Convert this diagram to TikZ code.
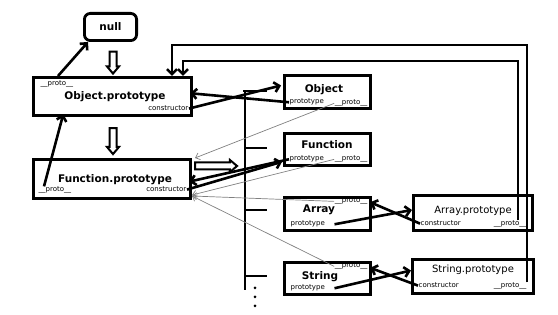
\documentclass[tikz,border=0pt]{standalone}
\usepackage{fontspec}
\setmainfont{DejaVu Sans}
\usepackage{tikz}
\usetikzlibrary{arrows.meta,shapes.arrows}

\begin{document}
\begin{tikzpicture}[x=1pt,y=-1pt,
  box/.style={draw, line width=2.8pt, inner sep=0pt},
  title/.style={font=\fontsize{10.5}{12}\selectfont\bfseries, inner sep=0pt, anchor=base},
  ptname/.style={font=\fontsize{10}{12}\selectfont, inner sep=0pt, anchor=base},
  prop/.style={font=\fontsize{7}{8}\selectfont, inner sep=0.5pt},
  link/.style={line width=2.6pt, -{Straight Barb[length=5pt,width=10pt]}},
  protolink/.style={gray, line width=0.7pt, -{Straight Barb[length=4pt,width=7pt]}},
  fatarrow/.style={single arrow, draw, line width=2pt, inner sep=2.5pt, single arrow head extend=2.5pt, single arrow tip angle=80},
  spine/.style={line width=2.8pt}]
\useasboundingbox (0,0) rectangle (558,315);

\node [box, rounded corners=6pt, minimum width=52.2pt, minimum height=27.2pt] (null) at (110.5,27) {};
\node [box, minimum width=158.2pt, minimum height=38.2pt] (objproto) at (112.5,96.5) {};
\node [box, minimum width=157.2pt, minimum height=39.2pt] (funproto) at (112,179) {};
\node [box, minimum width=86.2pt, minimum height=33.2pt] (obj) at (327.5,92) {};
\node [box, minimum width=86.2pt, minimum height=32.2pt] (fun) at (327.5,149.5) {};
\node [box, minimum width=86.2pt, minimum height=33.2pt] (arr) at (327.5,214) {};
\node [box, minimum width=86.2pt, minimum height=32.2pt] (str) at (327.5,278.5) {};
\node [box, minimum width=119.2pt, minimum height=35.2pt] (arrproto) at (473,213) {};
\node [box, minimum width=121.2pt, minimum height=34.2pt] (strproto) at (473,276.5) {};

\node [title] (nulltxt) at (110.5,31) {null};

\node [prop, anchor=base west] (oppr) at (40,86) {\_\_proto\_\_};
\node [title] (optxt) at (115,100) {Object.prototype};
\node [prop, anchor=base east] (opctor) at (189,111) {constructor};

\node [title] (fptxt) at (115,183) {Function.prototype};
\node [prop, anchor=base west] (fppr) at (38,192) {\_\_proto\_\_};
\node [prop, anchor=base east] (fpctor) at (187,192) {constructor};

\node [title] (objtxt) at (324,92.5) {Object};
\node [prop, anchor=base west] (objpt) at (289,104) {prototype};
\node [prop, anchor=base east] (objpr) at (368,105) {\_\_proto\_\_};

\node [title] (funtxt) at (327,149) {Function};
\node [prop, anchor=base west] (funpt) at (289,161) {prototype};
\node [prop, anchor=base east] (funpr) at (368,161) {\_\_proto\_\_};

\node [title] (arrtxt) at (319,213) {Array};
\node [prop, anchor=base east] (arrpr) at (368,203) {\_\_proto\_\_};
\node [prop, anchor=base west] (arrpt) at (290,226) {prototype};

\node [title] (strtxt) at (320,280) {String};
\node [prop, anchor=base east] (strpr) at (368,268) {\_\_proto\_\_};
\node [prop, anchor=base west] (strpt) at (290,290) {prototype};

\node [ptname] (aptxt) at (473,214) {Array.prototype};
\node [prop, anchor=base west] (apctor) at (420,226) {constructor};
\node [prop, anchor=base east] (appr) at (527,226) {\_\_proto\_\_};

\node [ptname] (sptxt) at (473,273) {String.prototype};
\node [prop, anchor=base west] (spctor) at (418,288) {constructor};
\node [prop, anchor=base east] (sppr) at (527,288) {\_\_proto\_\_};

\node [fatarrow, minimum height=22pt, rotate=-90] (nulldown) at (113,60.5) {};
\node [fatarrow, minimum height=26pt, rotate=-90] (objdown) at (113,139) {};
\node [fatarrow, minimum height=42pt] (funright) at (214,166) {};

\draw [spine] (243,91) -- (267,91);
\draw [spine] (245,91) -- (245,290);
\draw [spine] (245,148) -- (267,148);
\draw [spine] (245,210) -- (267,210);
\draw [spine] (245,276) -- (267,276);
\fill (255,288) circle (1.5pt);
\fill (255,297) circle (1.5pt);
\fill (255,306) circle (1.5pt);

\draw [link] ([xshift=26pt]objproto.north west) -- ([xshift=5pt]null.south west);
\draw [link, shorten >=-3pt] ([xshift=6pt]fppr.north west) -- ([xshift=-50pt]objproto.south);

\draw [link, shorten >=-3pt] (objpt.west) -- ([yshift=3pt]objproto.east);
\draw [link, shorten >=2pt] (opctor.east) -- ([yshift=7pt]obj.west);
\draw [link, shorten >=-3pt] (funpt.west) -- ([yshift=-2pt]funproto.east);
\draw [link, shorten >=1pt] (fpctor.east) -- ([yshift=-12pt]fun.west);

\draw [protolink] (objpr.west) -- ([xshift=3pt]funproto.north east);
\draw [protolink] (funpr.west) -- ([yshift=5pt]funproto.south east);
\draw [protolink] (arrpr.west) -- ([yshift=4pt]funproto.south east);
\draw [protolink] (strpr.west) -- ([yshift=4pt]funproto.south east);

\draw [link] ([xshift=9pt]arrpt.east) -- ([yshift=3pt]arrproto.west);
\draw [link, shorten >=-2pt] (apctor.west) -- ([yshift=11pt]arr.east);
\draw [link] ([xshift=9pt]strpt.east) -- ([yshift=6pt]strproto.west);
\draw [link, shorten >=-2pt] (spctor.west) -- ([yshift=10pt]str.east);

\coordinate (outer) at (172,45);
\coordinate (inner) at (183,61);
\draw [link] (sppr.north east) |- (outer) -- (objproto.north -| outer);
\draw [link] ([xshift=8pt]appr.north) |- (inner) -- (objproto.north -| inner);

\end{tikzpicture}
\end{document}
